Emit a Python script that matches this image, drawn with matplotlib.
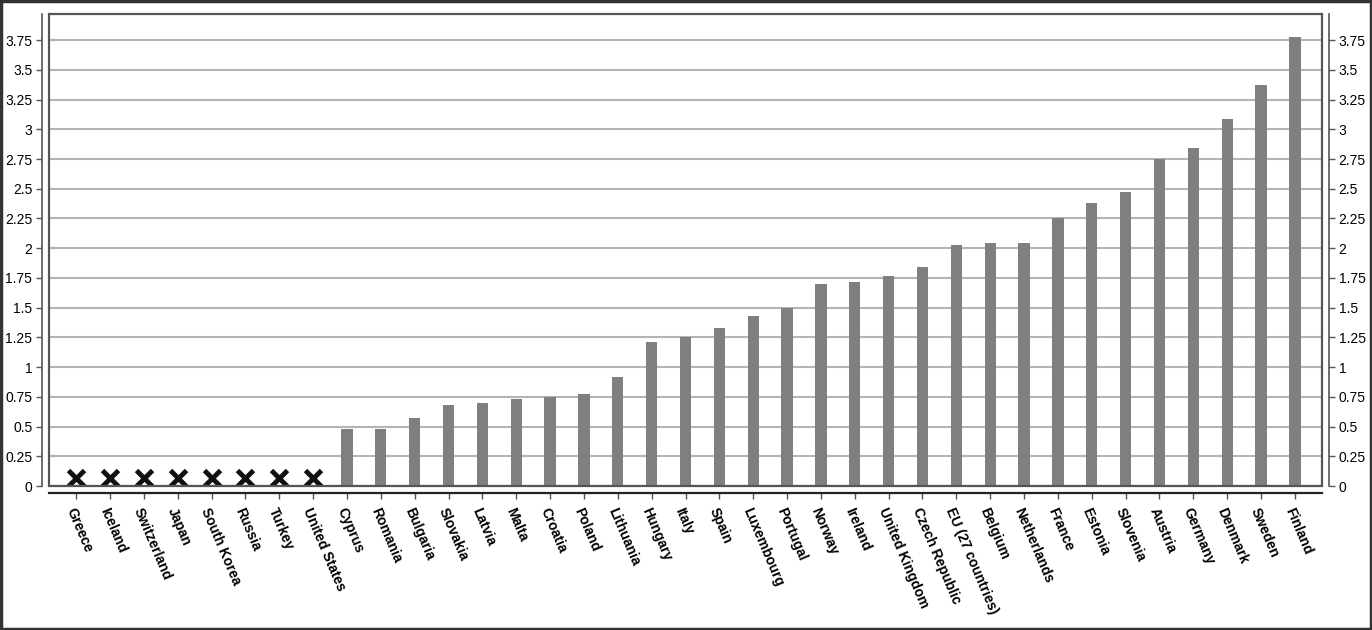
import numpy as np
import matplotlib.pyplot as plt
from matplotlib.patches import Rectangle

plt.rcParams['font.family'] = ['Liberation Sans', 'DejaVu Sans']

countries = [
    "Greece", "Iceland", "Switzerland", "Japan", "South Korea", "Russia",
    "Turkey", "United States", "Cyprus", "Romania", "Bulgaria", "Slovakia",
    "Latvia", "Malta", "Croatia", "Poland", "Lithuania", "Hungary", "Italy",
    "Spain", "Luxembourg", "Portugal", "Norway", "Ireland", "United Kingdom",
    "Czech Republic", "EU (27 countries)", "Belgium", "Netherlands", "France",
    "Estonia", "Slovenia", "Austria", "Germany", "Denmark", "Sweden", "Finland",
]

# None = no data (drawn as a cross)
values = [
    None, None, None, None, None, None, None, None,
    0.48, 0.48, 0.57, 0.68, 0.70, 0.73, 0.75, 0.77, 0.92, 1.21, 1.25,
    1.33, 1.43, 1.50, 1.70, 1.72, 1.77, 1.84, 2.03, 2.04, 2.04, 2.25,
    2.38, 2.47, 2.75, 2.84, 3.09, 3.37, 3.78,
]

yticks = np.arange(0, 3.76, 0.25)

x = np.arange(len(countries))
bar_vals = [v if v is not None else 0 for v in values]
missing = [i for i, v in enumerate(values) if v is None]

fig = plt.figure(figsize=(13.72, 6.30), dpi=100)
ax = fig.add_axes([49 / 1372, 144 / 630, (1322 - 49) / 1372, (486 - 14) / 630])

# spines first: set_position resets the tick objects
for side in ["left", "right", "bottom"]:
    ax.spines[side].set_position(("outward", 5))
    ax.spines[side].set_color("#555555")
    ax.spines[side].set_linewidth(1.2)
ax.spines["bottom"].set_color("#222222")
ax.spines["bottom"].set_linewidth(1.6)
ax.spines["top"].set_visible(False)

ax.bar(x, bar_vals, width=0.33, color="#7f7f7f", zorder=3)
ax.plot(missing, [0.07] * len(missing), linestyle="none", marker="x",
        markersize=11, markeredgewidth=3.5, color="#111111", zorder=4)

ax.set_xlim(-0.8, len(countries) - 0.2)
ax.set_ylim(0, 3.97)

ax.set_yticks(yticks)
ax.set_yticklabels([f"{t:g}" for t in yticks])
ax.yaxis.grid(True, color="#b4b4b4", linewidth=1.5, zorder=0)
ax.set_axisbelow(True)

ax.tick_params(axis="y", which="both", left=True, right=True,
               labelleft=True, labelright=True, length=4, width=1,
               color="#555555", labelsize=10, pad=3)
ax.tick_params(axis="x", length=4, width=1, color="#555555", pad=5)

ax.set_xticks(x)
ax.set_xticklabels(countries, rotation=-67, ha="left", va="top",
                   rotation_mode="anchor", fontweight="bold", fontsize=10)

# plot area frame
ax.add_patch(Rectangle((0, 0), 1, 1, transform=ax.transAxes, fill=False,
                       edgecolor="#555555", linewidth=1.6, clip_on=False, zorder=5))

# outer border of the image
fig.patches.append(Rectangle((0.001, 0.002), 0.998, 0.996, transform=fig.transFigure,
                             fill=False, edgecolor="#333333", linewidth=2.5))

fig.savefig("out.png", dpi=100)
